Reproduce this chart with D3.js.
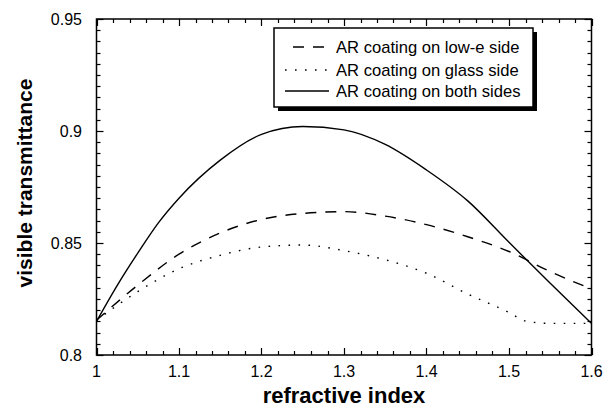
<!DOCTYPE html>
<html><head><meta charset="utf-8">
<script src="https://cdn.jsdelivr.net/npm/d3@7"></script>
<style>body{margin:0;background:#fff}svg{display:block}text{font-family:"Liberation Sans",Arial,sans-serif}</style>
</head><body>
<script>
const xVals = [1.00,1.05,1.10,1.15,1.20,1.25,1.30,1.35,1.40,1.45,1.50,1.55,1.60];
const lowE  = [0.8155,0.8312,0.8450,0.8545,0.8605,0.8632,0.8640,0.8620,0.8582,0.8528,0.8462,0.8372,0.8295];
const bothX = [1.00,1.025,1.05,1.075,1.10,1.15,1.20,1.25,1.30,1.35,1.40,1.45,1.50,1.55,1.60];
const both  = [0.8150,0.8310,0.8455,0.8590,0.8700,0.8870,0.8985,0.9020,0.9005,0.8940,0.8826,0.8688,0.8503,0.8320,0.8141];
const glassX = [1.00,1.05,1.10,1.15,1.20,1.25,1.30,1.35,1.40,1.45,1.50,1.52,1.55,1.60];
const glass = [0.8155,0.8283,0.8385,0.8445,0.8482,0.8491,0.8466,0.8425,0.8365,0.8272,0.8190,0.8152,0.8141,0.8141];
const legendLabels = ["AR coating on low-e side","AR coating on glass side","AR coating on both sides"];
const xTicks = [1,1.1,1.2,1.3,1.4,1.5,1.6];
const yTicks = [0.8,0.85,0.9,0.95];

const W=605,H=410, L=96.5, R=591.5, T=19, B=355;
const svg=d3.select("body").append("svg").attr("width",W).attr("height",H);
const x=d3.scaleLinear().domain([1,1.6]).range([L,R]);
const y=d3.scaleLinear().domain([0.8,0.95]).range([B,T]);

// frame
svg.append("rect").attr("x",L).attr("y",T).attr("width",R-L).attr("height",B-T)
  .attr("fill","none").attr("stroke","#000").attr("stroke-width",1.5);

// ticks (inward, all sides)
const xMinor=d3.range(0,31).map(i=>1+i*0.02);
const yMinor=d3.range(0,31).map(i=>0.8+i*0.005);
const g=svg.append("g").attr("stroke","#000").attr("stroke-width",1.2);
xMinor.forEach((v,i)=>{const len=(i%5===0)?7:4;const px=Math.round(x(v))+0.5;
  g.append("line").attr("x1",px).attr("x2",px).attr("y1",B).attr("y2",B-len);
  g.append("line").attr("x1",px).attr("x2",px).attr("y1",T).attr("y2",T+len);});
yMinor.forEach((v,i)=>{const len=(i%10===0)?7:4;const py=Math.round(y(v))+0.5;
  g.append("line").attr("x1",L).attr("x2",L+len).attr("y1",py).attr("y2",py);
  g.append("line").attr("x1",R).attr("x2",R-len).attr("y1",py).attr("y2",py);});

// tick labels
svg.selectAll(".xl").data(xTicks).enter().append("text").attr("x",d=>x(d)).attr("y",377)
  .attr("text-anchor","middle").attr("font-size",16).text(d=>d3.format("")(d));
svg.selectAll(".yl").data(yTicks).enter().append("text").attr("x",82).attr("y",d=>y(d)+6)
  .attr("text-anchor","end").attr("font-size",16).text(d=>d);

// axis titles
svg.append("text").attr("x",344).attr("y",403).attr("text-anchor","middle")
  .attr("font-size",22).attr("font-weight","bold").text("refractive index");
svg.append("text").attr("transform","translate(32,183) rotate(-90)").attr("text-anchor","middle")
  .attr("font-size",21).attr("font-weight","bold").text("visible transmittance");

// lines
const line=d3.line().x(d=>x(d[0])).y(d=>y(d[1])).curve(d3.curveMonotoneX);
const styles=[{dash:"11,9"},{dash:"1.6,8.4"},{dash:null}];
const series=[xVals.map((v,i)=>[v,lowE[i]]), glassX.map((v,i)=>[v,glass[i]]), bothX.map((v,i)=>[v,both[i]])];
series.forEach((s,i)=>{svg.append("path").attr("d",line(s)).attr("fill","none").attr("stroke","#000")
  .attr("stroke-width",1.4).attr("stroke-dasharray",styles[i].dash);});

// legend
const lx=274,ly=28,lw=259,lh=79;
svg.append("rect").attr("x",lx+4).attr("y",ly+4).attr("width",lw).attr("height",lh).attr("fill","#000");
svg.append("rect").attr("x",lx).attr("y",ly).attr("width",lw).attr("height",lh).attr("fill","#fff")
  .attr("stroke","#000").attr("stroke-width",1.5);
const rows=[47,70,91];
legendLabels.forEach((t,i)=>{
  svg.append("line").attr("x1",i===0?293:285).attr("x2",329).attr("y1",rows[i]).attr("y2",rows[i])
    .attr("stroke","#000").attr("stroke-width",1.4).attr("stroke-dasharray",styles[i].dash);
  svg.append("text").attr("x",336).attr("y",rows[i]+6).attr("font-size",16.6).text(t);
});
</script>
</body></html>
